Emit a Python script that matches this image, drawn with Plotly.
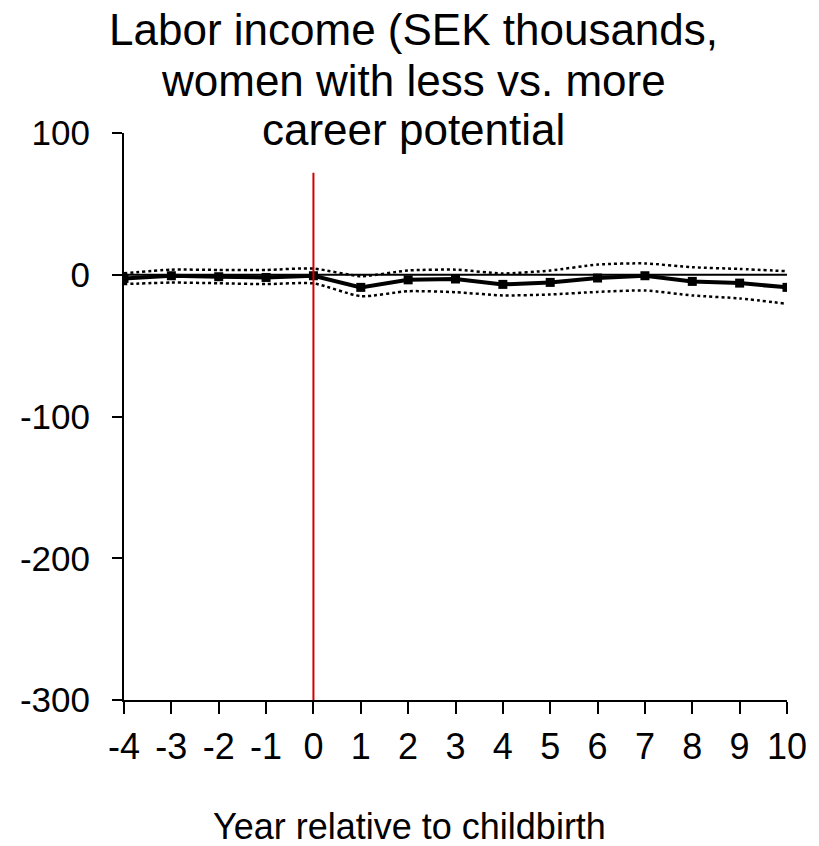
import plotly.graph_objects as go

# Event-study estimates: labor income gap (SEK thousands) by year relative to childbirth
years = [-4, -3, -2, -1, 0, 1, 2, 3, 4, 5, 6, 7, 8, 9, 10]
estimate = [-2.6, -0.7, -1.4, -1.9, -0.7, -8.9, -3.6, -3.0, -6.8, -5.4, -2.3, -0.7, -4.7, -5.9, -8.9]
ci_upper = [1.0, 3.6, 3.4, 3.4, 4.4, -1.0, 3.0, 3.6, 0.9, 3.0, 7.2, 8.0, 5.3, 4.1, 2.5]
ci_lower = [-6.6, -5.5, -6.0, -6.6, -6.1, -15.1, -11.6, -12.3, -14.6, -13.9, -12.1, -11.1, -14.6, -16.7, -20.5]

y_ticks = [100, 0, -100, -200, -300]
x_ticks = years
childbirth_year = 0
childbirth_line_top = 72

title_lines = ["Labor income (SEK thousands,", "women with less vs. more", "career potential"]
x_title = "Year relative to childbirth"

W, H = 819, 846
ML, MR, MT, MB = 124, 26, 133, 146
PLOT_W = W - ML - MR
PLOT_H = H - MT - MB
FONT = "Liberation Sans, Arial, sans-serif"


def px_to_paper_x(px):
    return (px - ML) / PLOT_W


def px_to_paper_y(py):
    return (H - MB - py) / PLOT_H


fig = go.Figure()

fig.add_trace(go.Scatter(
    x=years, y=ci_upper, mode="lines",
    line=dict(color="black", width=2.5, dash="dot", shape="spline", smoothing=0.6),
    hoverinfo="skip", showlegend=False,
))
fig.add_trace(go.Scatter(
    x=years, y=ci_lower, mode="lines",
    line=dict(color="black", width=2.5, dash="dot", shape="spline", smoothing=0.6),
    hoverinfo="skip", showlegend=False,
))
fig.add_trace(go.Scatter(
    x=years, y=estimate, mode="lines+markers",
    line=dict(color="black", width=4),
    marker=dict(symbol="square", size=9, color="black"),
    showlegend=False,
))

# zero reference line
fig.add_shape(type="line", xref="x", yref="y", x0=years[0], x1=years[-1] + 0.17, y0=0, y1=0,
              line=dict(color="black", width=2), layer="below")
# childbirth marker
fig.add_shape(type="line", xref="x", yref="y", x0=childbirth_year, x1=childbirth_year,
              y0=y_ticks[-1], y1=childbirth_line_top,
              line=dict(color="#d40000", width=2))

fig.update_xaxes(
    range=[years[0], years[-1]], tickvals=x_ticks, ticktext=[str(v) for v in x_ticks],
    showline=True, linecolor="black", linewidth=2,
    ticks="outside", ticklen=12, tickwidth=2, tickcolor="black",
    tickfont=dict(family=FONT, size=36, color="black"),
    ticklabelstandoff=2,
    showgrid=False, zeroline=False,
)
fig.update_yaxes(
    range=[y_ticks[-1], y_ticks[0]], tickvals=y_ticks, ticktext=[str(v) for v in y_ticks],
    showline=True, linecolor="black", linewidth=2,
    ticks="outside", ticklen=10, tickwidth=2, tickcolor="black",
    tickfont=dict(family=FONT, size=35, color="black"),
    ticklabelstandoff=15,
    showgrid=False, zeroline=False,
)

# chart title, one line per annotation
for line_text, cy in zip(title_lines, [29, 80, 130]):
    fig.add_annotation(
        text=line_text, xref="paper", yref="paper",
        x=px_to_paper_x(416), y=px_to_paper_y(cy),
        xanchor="center", yanchor="middle", showarrow=False,
        font=dict(family=FONT, size=44, color="black"),
    )

fig.add_annotation(
    text=x_title, xref="paper", yref="paper",
    x=px_to_paper_x(412), y=px_to_paper_y(826),
    xanchor="center", yanchor="middle", showarrow=False,
    font=dict(family=FONT, size=36, color="black"),
)

fig.update_layout(
    width=W, height=H,
    margin=dict(l=ML, r=MR, t=MT, b=MB),
    paper_bgcolor="white", plot_bgcolor="white",
)

fig.write_html("out.html")
